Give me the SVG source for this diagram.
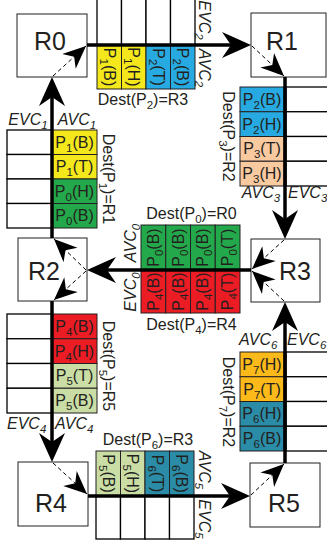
<svg xmlns="http://www.w3.org/2000/svg" width="327" height="544" viewBox="0 0 327 544">
<defs>
<style>
.w{fill:#fff;stroke:#000;stroke-width:1.3}
.c{stroke:#231f20;stroke-width:1}
.y{fill:#f4e81c}.b{fill:#27aae1}.p{fill:#f9c9a0}.g{fill:#23a84b}.r{fill:#ec1c24}.lg{fill:#c9dda5}.tl{fill:#2a8ca6}.o{fill:#fbb91a}
.t{font-family:"Liberation Sans",Arial,Helvetica,sans-serif;font-size:16px;fill:#231f20}
.m{text-anchor:middle}
.i{font-style:italic}
.s{font-size:11.5px}
.rl{font-size:25px}
.box{fill:#fff;stroke:#231f20;stroke-width:1}
.link{stroke:#000;stroke-width:3.5;fill:none;marker-end:url(#big)}
.dash{stroke:#000;stroke-width:1;stroke-dasharray:4 3;fill:none;marker-end:url(#small)}
</style>
<marker id="big" markerUnits="userSpaceOnUse" viewBox="0 0 32 28" markerWidth="32" markerHeight="28" refX="20" refY="14" orient="auto"><path d="M30,14 L1,1 L10,14 L1,27 Z" fill="#000"/></marker>
<marker id="small" markerUnits="userSpaceOnUse" viewBox="0 0 26 22" markerWidth="26" markerHeight="22" refX="24" refY="11" orient="auto"><path d="M24,11 L1,1 L8,11 L1,21 Z" fill="#000"/></marker>
</defs>

<!-- buffer R0->R1 -->
<g id="buf01">
<rect class="w" x="97" y="-1" width="24.5" height="46"/><rect class="w" x="121.5" y="-1" width="24.5" height="46"/><rect class="w" x="146" y="-1" width="24.5" height="46"/><rect class="w" x="170.5" y="-1" width="24.5" height="46"/>
<rect class="c y" x="97" y="45" width="24.5" height="44"/><rect class="c y" x="121.5" y="45" width="24.5" height="44"/><rect class="c b" x="146" y="45" width="24.5" height="44"/><rect class="c b" x="170.5" y="45" width="24.5" height="44"/>
<text class="t m" transform="translate(109.3,67) rotate(90)" y="5.5">P<tspan class="s" dy="4">1</tspan><tspan dy="-4">(B)</tspan></text>
<text class="t m" transform="translate(133.8,67) rotate(90)" y="5.5">P<tspan class="s" dy="4">1</tspan><tspan dy="-4">(H)</tspan></text>
<text class="t m" transform="translate(158.3,67) rotate(90)" y="5.5">P<tspan class="s" dy="4">2</tspan><tspan dy="-4">(T)</tspan></text>
<text class="t m" transform="translate(182.8,67) rotate(90)" y="5.5">P<tspan class="s" dy="4">2</tspan><tspan dy="-4">(B)</tspan></text>
<text class="t m" x="143" y="105">Dest(P<tspan class="s" dy="4">2</tspan><tspan dy="-4">)=R3</tspan></text>
<text class="t m i" transform="translate(204,20) rotate(90)" y="5.5">EVC<tspan class="s" dy="4">2</tspan></text>
<text class="t m i" transform="translate(204,68) rotate(90)" y="5.5">AVC<tspan class="s" dy="4">2</tspan></text>
</g>

<!-- buffer R1->R3 -->
<g id="buf13">
<rect class="w" x="286" y="87" width="45" height="24.75"/><rect class="w" x="286" y="111.75" width="45" height="24.75"/><rect class="w" x="286" y="136.5" width="45" height="24.75"/><rect class="w" x="286" y="161.25" width="45" height="24.75"/>
<rect class="c b" x="240" y="87" width="44" height="24.75"/><rect class="c b" x="240" y="111.75" width="44" height="24.75"/><rect class="c p" x="240" y="136.5" width="44" height="24.75"/><rect class="c p" x="240" y="161.25" width="44" height="24.75"/>
<text class="t m" x="262" y="105">P<tspan class="s" dy="4">2</tspan><tspan dy="-4">(B)</tspan></text>
<text class="t m" x="262" y="129.7">P<tspan class="s" dy="4">2</tspan><tspan dy="-4">(H)</tspan></text>
<text class="t m" x="262" y="154.4">P<tspan class="s" dy="4">3</tspan><tspan dy="-4">(T)</tspan></text>
<text class="t m" x="262" y="179.1">P<tspan class="s" dy="4">3</tspan><tspan dy="-4">(H)</tspan></text>
<text class="t m" transform="translate(228,136.5) rotate(90)" y="5.5">Dest(P<tspan class="s" dy="4">3</tspan><tspan dy="-4">)=R2</tspan></text>
<text class="t m i" x="261" y="198">AVC<tspan class="s" dy="4">3</tspan></text>
<text class="t i" x="288" y="198">EVC<tspan class="s" dy="4">3</tspan></text>
</g>

<!-- buffer R3->R2 -->
<g id="buf32">
<rect class="c g" x="141" y="225" width="24.75" height="45"/><rect class="c g" x="165.75" y="225" width="24.75" height="45"/><rect class="c g" x="190.5" y="225" width="24.75" height="45"/><rect class="c g" x="215.25" y="225" width="24.75" height="45"/>
<rect class="c r" x="141" y="270" width="24.75" height="43"/><rect class="c r" x="165.75" y="270" width="24.75" height="43"/><rect class="c r" x="190.5" y="270" width="24.75" height="43"/><rect class="c r" x="215.25" y="270" width="24.75" height="43"/>
<text class="t m" transform="translate(153.4,247.5) rotate(-90)" y="5.5">P<tspan class="s" dy="4">0</tspan><tspan dy="-4">(B)</tspan></text>
<text class="t m" transform="translate(178.1,247.5) rotate(-90)" y="5.5">P<tspan class="s" dy="4">0</tspan><tspan dy="-4">(B)</tspan></text>
<text class="t m" transform="translate(202.9,247.5) rotate(-90)" y="5.5">P<tspan class="s" dy="4">0</tspan><tspan dy="-4">(B)</tspan></text>
<text class="t m" transform="translate(227.6,247.5) rotate(-90)" y="5.5">P<tspan class="s" dy="4">0</tspan><tspan dy="-4">(T)</tspan></text>
<text class="t m" transform="translate(153.4,291.5) rotate(-90)" y="5.5">P<tspan class="s" dy="4">4</tspan><tspan dy="-4">(B)</tspan></text>
<text class="t m" transform="translate(178.1,291.5) rotate(-90)" y="5.5">P<tspan class="s" dy="4">4</tspan><tspan dy="-4">(B)</tspan></text>
<text class="t m" transform="translate(202.9,291.5) rotate(-90)" y="5.5">P<tspan class="s" dy="4">4</tspan><tspan dy="-4">(B)</tspan></text>
<text class="t m" transform="translate(227.6,291.5) rotate(-90)" y="5.5">P<tspan class="s" dy="4">4</tspan><tspan dy="-4">(T)</tspan></text>
<text class="t m" x="191.5" y="219">Dest(P<tspan class="s" dy="4">0</tspan><tspan dy="-4">)=R0</tspan></text>
<text class="t m" x="191.5" y="330">Dest(P<tspan class="s" dy="4">4</tspan><tspan dy="-4">)=R4</tspan></text>
<text class="t m i" transform="translate(130.5,243) rotate(-90)" y="5.5">AVC<tspan class="s" dy="4">0</tspan></text>
<text class="t m i" transform="translate(130.5,292) rotate(-90)" y="5.5">EVC<tspan class="s" dy="4">0</tspan></text>
</g>

<!-- buffer R2->R0 -->
<g id="buf20">
<rect class="w" x="7" y="130" width="45" height="24.5"/><rect class="w" x="7" y="154.5" width="45" height="24.5"/><rect class="w" x="7" y="179" width="45" height="24.5"/><rect class="w" x="7" y="203.5" width="45" height="24.5"/>
<rect class="c y" x="52" y="130" width="45" height="24.5"/><rect class="c y" x="52" y="154.5" width="45" height="24.5"/><rect class="c g" x="52" y="179" width="45" height="24.5"/><rect class="c g" x="52" y="203.5" width="45" height="24.5"/>
<text class="t m" x="74.5" y="147.8">P<tspan class="s" dy="4">1</tspan><tspan dy="-4">(B)</tspan></text>
<text class="t m" x="74.5" y="172.3">P<tspan class="s" dy="4">1</tspan><tspan dy="-4">(T)</tspan></text>
<text class="t m" x="74.5" y="196.8">P<tspan class="s" dy="4">0</tspan><tspan dy="-4">(H)</tspan></text>
<text class="t m" x="74.5" y="221.3">P<tspan class="s" dy="4">0</tspan><tspan dy="-4">(B)</tspan></text>
<text class="t m" transform="translate(108,179) rotate(90)" y="5.5">Dest(P<tspan class="s" dy="4">1</tspan><tspan dy="-4">)=R1</tspan></text>
<text class="t m i" x="28" y="125">EVC<tspan class="s" dy="4">1</tspan></text>
<text class="t m i" x="77" y="125">AVC<tspan class="s" dy="4">1</tspan></text>
</g>

<!-- buffer R2->R4 -->
<g id="buf24">
<rect class="w" x="7" y="314" width="45" height="24.75"/><rect class="w" x="7" y="338.75" width="45" height="24.75"/><rect class="w" x="7" y="363.5" width="45" height="24.75"/><rect class="w" x="7" y="388.25" width="45" height="24.75"/>
<rect class="c r" x="52" y="314" width="45" height="24.75"/><rect class="c r" x="52" y="338.75" width="45" height="24.75"/><rect class="c lg" x="52" y="363.5" width="45" height="24.75"/><rect class="c lg" x="52" y="388.25" width="45" height="24.75"/>
<text class="t m" x="74.5" y="331.9">P<tspan class="s" dy="4">4</tspan><tspan dy="-4">(B)</tspan></text>
<text class="t m" x="74.5" y="356.6">P<tspan class="s" dy="4">4</tspan><tspan dy="-4">(H)</tspan></text>
<text class="t m" x="74.5" y="381.4">P<tspan class="s" dy="4">5</tspan><tspan dy="-4">(T)</tspan></text>
<text class="t m" x="74.5" y="406.1">P<tspan class="s" dy="4">5</tspan><tspan dy="-4">(B)</tspan></text>
<text class="t m" transform="translate(108,366) rotate(90)" y="5.5">Dest(P<tspan class="s" dy="4">5</tspan><tspan dy="-4">)=R5</tspan></text>
<text class="t i" x="7" y="429">EVC<tspan class="s" dy="4">4</tspan></text>
<text class="t i" x="55" y="429">AVC<tspan class="s" dy="4">4</tspan></text>
</g>

<!-- buffer R4->R5 -->
<g id="buf45">
<rect class="c lg" x="96" y="451" width="24.5" height="45"/><rect class="c lg" x="120.5" y="451" width="24.5" height="45"/><rect class="c tl" x="145" y="451" width="24.5" height="45"/><rect class="c tl" x="169.5" y="451" width="24.5" height="45"/>
<rect class="w" x="96" y="496" width="24.5" height="43"/><rect class="w" x="120.5" y="496" width="24.5" height="43"/><rect class="w" x="145" y="496" width="24.5" height="43"/><rect class="w" x="169.5" y="496" width="24.5" height="43"/>
<text class="t m" transform="translate(108.3,473.5) rotate(90)" y="5.5">P<tspan class="s" dy="4">5</tspan><tspan dy="-4">(B)</tspan></text>
<text class="t m" transform="translate(132.8,473.5) rotate(90)" y="5.5">P<tspan class="s" dy="4">5</tspan><tspan dy="-4">(H)</tspan></text>
<text class="t m" transform="translate(157.3,473.5) rotate(90)" y="5.5">P<tspan class="s" dy="4">6</tspan><tspan dy="-4">(T)</tspan></text>
<text class="t m" transform="translate(181.8,473.5) rotate(90)" y="5.5">P<tspan class="s" dy="4">6</tspan><tspan dy="-4">(B)</tspan></text>
<text class="t m" x="148" y="445">Dest(P<tspan class="s" dy="4">6</tspan><tspan dy="-4">)=R3</tspan></text>
<text class="t m i" transform="translate(204,470) rotate(90)" y="5.5">AVC<tspan class="s" dy="4">5</tspan></text>
<text class="t m i" transform="translate(204,519) rotate(90)" y="5.5">EVC<tspan class="s" dy="4">5</tspan></text>
</g>

<!-- buffer R5->R3 -->
<g id="buf53">
<rect class="w" x="286" y="352" width="45" height="24.75"/><rect class="w" x="286" y="376.75" width="45" height="24.75"/><rect class="w" x="286" y="401.5" width="45" height="24.75"/><rect class="w" x="286" y="426.25" width="45" height="24.75"/>
<rect class="c o" x="240" y="352" width="44" height="24.75"/><rect class="c o" x="240" y="376.75" width="44" height="24.75"/><rect class="c tl" x="240" y="401.5" width="44" height="24.75"/><rect class="c tl" x="240" y="426.25" width="44" height="24.75"/>
<text class="t m" x="262" y="369.9">P<tspan class="s" dy="4">7</tspan><tspan dy="-4">(H)</tspan></text>
<text class="t m" x="262" y="394.6">P<tspan class="s" dy="4">7</tspan><tspan dy="-4">(T)</tspan></text>
<text class="t m" x="262" y="419.4">P<tspan class="s" dy="4">6</tspan><tspan dy="-4">(H)</tspan></text>
<text class="t m" x="262" y="444.1">P<tspan class="s" dy="4">6</tspan><tspan dy="-4">(B)</tspan></text>
<text class="t m" transform="translate(228,402) rotate(90)" y="5.5">Dest(P<tspan class="s" dy="4">7</tspan><tspan dy="-4">)=R2</tspan></text>
<text class="t i" x="239" y="345">AVC<tspan class="s" dy="4">6</tspan></text>
<text class="t i" x="287" y="345">EVC<tspan class="s" dy="4">6</tspan></text>
</g>

<!-- routers -->
<g id="R0"><rect class="box" x="17" y="14" width="70" height="63"/><text class="t m rl" x="50" y="50">R0</text></g>
<g id="R1"><rect class="box" x="251" y="13" width="75" height="64"/><text class="t m rl" x="282" y="50">R1</text></g>
<g id="R2"><rect class="box" x="18" y="238" width="69" height="63"/><text class="t m rl" x="44" y="280">R2</text></g>
<g id="R3"><rect class="box" x="251" y="239" width="69" height="63"/><text class="t m rl" x="295" y="280">R3</text></g>
<g id="R4"><rect class="box" x="18" y="462" width="70" height="64"/><text class="t m rl" x="51" y="512">R4</text></g>
<g id="R5"><rect class="box" x="250" y="463" width="70" height="64"/><text class="t m rl" x="284" y="512">R5</text></g>

<!-- connectors -->
<g id="connectors">
<path class="link" d="M87,45 H241"/>
<path class="link" d="M285,77 V229"/>
<path class="link" d="M251,270 H97"/>
<path class="link" d="M52,238 V87"/>
<path class="link" d="M52,301 V452"/>
<path class="link" d="M88,496 H240"/>
<path class="link" d="M285,463 V312"/>
<path class="dash" d="M53,76 L86,46"/>
<path class="dash" d="M252,46 L284,76"/>
<path class="dash" d="M86,270 L54,239"/>
<path class="dash" d="M86,271 L54,300"/>
<path class="dash" d="M284,240 L252,269"/>
<path class="dash" d="M284,301 L252,271"/>
<path class="dash" d="M53,463 L87,494"/>
<path class="dash" d="M251,495 L284,464"/>
</g>
</svg>
